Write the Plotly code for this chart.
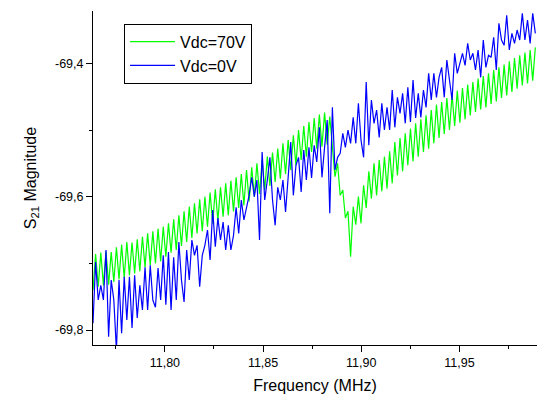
import numpy as np
import plotly.graph_objects as go

# frequency sweep (MHz): uniform grid
freq_start = 11.7634
freq_step = 0.001325
n_points = 171
freq = freq_start + freq_step * np.arange(n_points)

# S21 magnitude, Vdc = 70 V
s21_70v = [
    -69.740, -69.686, -69.735, -69.684, -69.733, -69.682, -69.732, -69.683, -69.728, -69.676,
    -69.724, -69.672, -69.722, -69.668, -69.718, -69.669, -69.715, -69.664, -69.712, -69.660,
    -69.706, -69.655, -69.703, -69.652, -69.700, -69.648, -69.697, -69.645, -69.690, -69.640,
    -69.684, -69.634, -69.680, -69.628, -69.674, -69.622, -69.668, -69.615, -69.662, -69.610,
    -69.655, -69.604, -69.652, -69.600, -69.645, -69.594, -69.640, -69.589, -69.636, -69.586,
    -69.630, -69.580, -69.628, -69.576, -69.622, -69.571, -69.617, -69.566, -69.613, -69.560,
    -69.607, -69.556, -69.600, -69.550, -69.596, -69.545, -69.590, -69.540, -69.584, -69.534,
    -69.578, -69.528, -69.573, -69.520, -69.566, -69.515, -69.560, -69.508, -69.553, -69.500,
    -69.545, -69.494, -69.540, -69.488, -69.533, -69.482, -69.528, -69.477, -69.525, -69.474,
    -69.522, -69.480, -69.525, -69.570, -69.550, -69.598, -69.590, -69.632, -69.622, -69.690,
    -69.615, -69.642, -69.600, -69.640, -69.583, -69.617, -69.562, -69.603, -69.550, -69.598,
    -69.545, -69.592, -69.540, -69.588, -69.532, -69.580, -69.518, -69.568, -69.512, -69.562,
    -69.505, -69.553, -69.498, -69.547, -69.490, -69.540, -69.484, -69.533, -69.478, -69.528,
    -69.470, -69.520, -69.462, -69.512, -69.458, -69.506, -69.452, -69.500, -69.447, -69.494,
    -69.441, -69.489, -69.437, -69.484, -69.432, -69.478, -69.428, -69.473, -69.423, -69.469,
    -69.419, -69.466, -69.415, -69.461, -69.410, -69.457, -69.406, -69.452, -69.402, -69.448,
    -69.397, -69.443, -69.392, -69.438, -69.388, -69.433, -69.384, -69.430, -69.380, -69.426,
    -69.376,
]

# S21 magnitude, Vdc = 0 V
s21_0v = [
    -69.790, -69.698, -69.755, -69.733, -69.755, -69.680, -69.810, -69.725, -69.755, -69.830,
    -69.725, -69.805, -69.720, -69.785, -69.720, -69.797, -69.718, -69.782, -69.733, -69.770,
    -69.706, -69.770, -69.703, -69.755, -69.766, -69.707, -69.755, -69.688, -69.762, -69.683,
    -69.770, -69.691, -69.755, -69.668, -69.725, -69.758, -69.680, -69.725, -69.665, -69.688,
    -69.673, -69.735, -69.688, -69.673, -69.650, -69.695, -69.620, -69.675, -69.632, -69.665,
    -69.638, -69.680, -69.643, -69.680, -69.658, -69.616, -69.655, -69.605, -69.635, -69.616,
    -69.598, -69.571, -69.600, -69.575, -69.665, -69.533, -69.605, -69.575, -69.541, -69.605,
    -69.643, -69.586, -69.605, -69.575, -69.623, -69.571, -69.518, -69.598, -69.553, -69.541,
    -69.593, -69.530, -69.575, -69.526, -69.572, -69.523, -69.548, -69.496, -69.571, -69.526,
    -69.485, -69.625, -69.466, -69.560, -69.541, -69.535, -69.505, -69.526, -69.500, -69.520,
    -69.481, -69.520, -69.460, -69.515, -69.541, -69.428, -69.523, -69.455, -69.490, -69.470,
    -69.511, -69.460, -69.500, -69.466, -69.500, -69.440, -69.496, -69.451, -69.475, -69.445,
    -69.490, -69.436, -69.488, -69.425, -69.482, -69.445, -69.481, -69.440, -69.466, -69.415,
    -69.455, -69.415, -69.451, -69.421, -69.406, -69.451, -69.395, -69.425, -69.455, -69.385,
    -69.415, -69.400, -69.385, -69.403, -69.370, -69.395, -69.385, -69.410, -69.380, -69.421,
    -69.365, -69.406, -69.388, -69.391, -69.361, -69.410, -69.340, -69.365, -69.373, -69.328,
    -69.380, -69.355, -69.370, -69.350, -69.365, -69.325, -69.365, -69.335, -69.370, -69.325,
    -69.355,
]

x_ticks = [11.80, 11.85, 11.90, 11.95]
x_ticktext = ["11,80", "11,85", "11,90", "11,95"]
x_minor = [11.775, 11.825, 11.875, 11.925, 11.975]
y_ticks = [-69.8, -69.6, -69.4]
y_ticktext = ["-69,8", "-69,6", "-69,4"]
y_minor = [-69.7, -69.5]

font = "Arial, Liberation Sans, sans-serif"

fig = go.Figure()
fig.add_trace(go.Scatter(x=freq, y=s21_70v, mode="lines", name="Vdc=70V",
                         line=dict(color="#00FF00", width=1.2)))
fig.add_trace(go.Scatter(x=freq, y=s21_0v, mode="lines", name="Vdc=0V",
                         line=dict(color="#0000FF", width=1.2)))

fig.update_layout(
    width=537, height=402,
    margin=dict(l=93, r=0, t=11, b=57),
    paper_bgcolor="white", plot_bgcolor="white",
    font=dict(family=font, color="black", size=12.5),
    legend=dict(x=0.07, y=0.962, xanchor="left", yanchor="top",
                bordercolor="black", borderwidth=1, bgcolor="white",
                font=dict(size=16), tracegroupgap=0, itemwidth=45),
)
fig.update_xaxes(
    range=[11.7634, 11.9895], showline=True, linecolor="black", linewidth=1,
    showgrid=False, zeroline=False, ticks="outside", ticklen=6, tickcolor="black",
    tickmode="array", tickvals=x_ticks, ticktext=x_ticktext,
    minor=dict(ticks="outside", ticklen=3, tickcolor="black", tickmode="array", tickvals=x_minor),
    title=dict(text="Frequency (MHz)", font=dict(size=16), standoff=10),
    automargin=False,
)
fig.update_yaxes(
    range=[-69.8225, -69.3215], showline=True, linecolor="black", linewidth=1,
    showgrid=False, zeroline=False, ticks="outside", ticklen=6, tickcolor="black",
    tickmode="array", tickvals=y_ticks, ticktext=y_ticktext,
    minor=dict(ticks="outside", ticklen=3, tickcolor="black", tickmode="array", tickvals=y_minor),
    title=dict(text="S<sub>21</sub> Magnitude", font=dict(size=16), standoff=14),
    automargin=False,
)

# drop the default page margin so the 537x402 figure fills the window exactly
fig.write_html("out.html", config={"displayModeBar": False},
               post_script="document.body.style.margin='0';document.body.style.overflow='hidden';")
